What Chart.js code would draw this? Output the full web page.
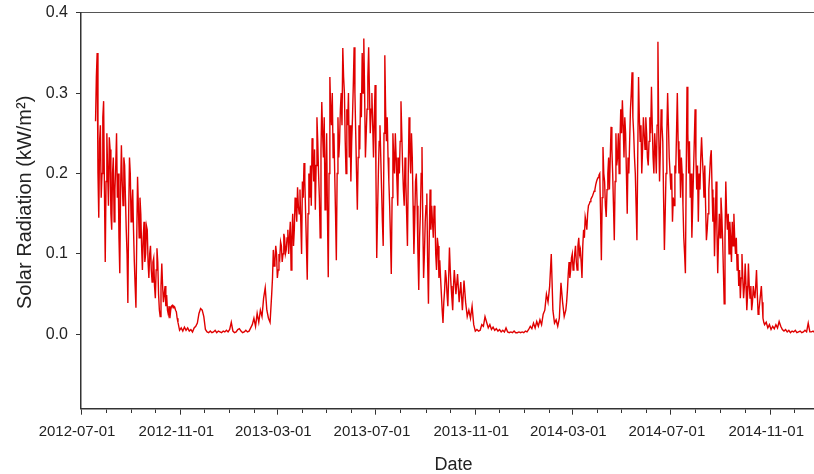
<!DOCTYPE html>
<html>
<head>
<meta charset="utf-8">
<script src="https://cdn.jsdelivr.net/npm/chart.js@4.4.0/dist/chart.umd.min.js"></script>
<style>
  html, body { margin: 0; padding: 0; background: #fff; overflow: hidden; }
  #wrap { width: 826px; height: 474px; }
</style>
</head>
<body>
<div id="wrap"><canvas id="c" width="826" height="474"></canvas></div>
<script>
// Solar radiation (kW/m²). Each season: first date, spacing in days, readings.

const summer2012Start = '2012-07-19';
const summer2012Step = 1;
const summer2012 = [
  0.265, 0.32, 0.35, 0.2, 0.145, 0.24, 0.26, 0.17, 0.20, 0.27,
  0.29, 0.18, 0.09, 0.19, 0.25, 0.2, 0.16, 0.245, 0.23, 0.15,
  0.13, 0.2, 0.22, 0.14, 0.18, 0.21, 0.25, 0.17, 0.20, 0.12,
  0.076, 0.18, 0.235, 0.19, 0.16, 0.22, 0.21, 0.17, 0.13, 0.1,
  0.039, 0.15, 0.22, 0.2, 0.14, 0.16, 0.18, 0.13, 0.09, 0.06,
  0.033, 0.12, 0.196, 0.16, 0.12, 0.17, 0.15, 0.11, 0.08, 0.12,
  0.14, 0.09, 0.10, 0.135, 0.13, 0.09, 0.07, 0.1, 0.11, 0.08,
  0.065, 0.09, 0.095, 0.06, 0.045, 0.08, 0.107, 0.09, 0.05, 0.03,
  0.022, 0.06, 0.088, 0.06, 0.04, 0.05, 0.06, 0.035, 0.049, 0.03,
  0.025, 0.035, 0.02, 0.03, 0.035, 0.036, 0.033, 0.035, 0.034, 0.03,
  0.028, 0.02
];

const winter2012Start = '2012-10-29';
const winter2012Step = 2;
const winter2012 = [
  0.015, 0.005, 0.008, 0.004, 0.009, 0.005, 0.008, 0.004, 0.006, 0.003,
  0.008, 0.01, 0.014, 0.026, 0.032, 0.03, 0.022, 0.006, 0.003, 0.002,
  0.004, 0.002, 0.003, 0.005, 0.002, 0.004, 0.003, 0.002, 0.004, 0.003,
  0.005, 0.003, 0.006, 0.015, 0.004, 0.002, 0.003, 0.006, 0.007, 0.004,
  0.002, 0.003, 0.005, 0.003, 0.004
];

const spring2013Start = '2013-01-27';
const spring2013Step = 2;
const spring2013 = [
  0.008, 0.012, 0.02, 0.01, 0.026, 0.015, 0.03, 0.022, 0.045, 0.058,
  0.03, 0.02, 0.015
];

const summer2013Start = '2013-02-22';
const summer2013Step = 1;
const summer2013 = [
  0.05, 0.07, 0.105, 0.085, 0.09, 0.11, 0.1, 0.07, 0.08, 0.1,
  0.095, 0.115, 0.11, 0.09, 0.1, 0.125, 0.12, 0.1, 0.105, 0.12,
  0.13, 0.1, 0.12, 0.14, 0.08, 0.12, 0.15, 0.11, 0.13, 0.17,
  0.16, 0.14, 0.183, 0.16, 0.15, 0.18, 0.14, 0.1, 0.19, 0.17,
  0.213, 0.19, 0.15, 0.11, 0.068, 0.15, 0.2, 0.17, 0.21, 0.16,
  0.244, 0.22, 0.19, 0.23, 0.155, 0.21, 0.27, 0.24, 0.2, 0.17,
  0.12, 0.23, 0.289, 0.25, 0.22, 0.27, 0.155, 0.2, 0.25, 0.15,
  0.071, 0.2, 0.32, 0.28, 0.26, 0.3, 0.22, 0.25, 0.2, 0.15,
  0.092, 0.2, 0.27, 0.22, 0.24, 0.28, 0.30, 0.26, 0.356, 0.32,
  0.3, 0.24, 0.2, 0.28, 0.26, 0.3, 0.22, 0.26, 0.19, 0.24,
  0.27, 0.31, 0.357, 0.3, 0.25, 0.2, 0.155, 0.22, 0.26, 0.23,
  0.30, 0.27, 0.35, 0.3, 0.368, 0.3, 0.22, 0.25, 0.28, 0.32,
  0.357, 0.3, 0.25, 0.28, 0.30, 0.26, 0.22, 0.27, 0.31, 0.2,
  0.095, 0.15, 0.2, 0.24, 0.26, 0.22, 0.18, 0.14, 0.11, 0.25,
  0.347, 0.28, 0.24, 0.27, 0.22, 0.19, 0.16, 0.12, 0.075, 0.17,
  0.25, 0.22, 0.2, 0.25, 0.22, 0.19, 0.16, 0.22, 0.2, 0.24,
  0.29, 0.25, 0.21, 0.18, 0.16, 0.22, 0.19, 0.15, 0.11, 0.2,
  0.27, 0.23, 0.2, 0.25, 0.22, 0.16, 0.1, 0.14, 0.19, 0.2,
  0.16, 0.1, 0.055, 0.12, 0.15, 0.2, 0.233, 0.14, 0.07, 0.1,
  0.14, 0.16, 0.175, 0.09, 0.038, 0.12, 0.18, 0.13, 0.16, 0.14,
  0.12, 0.16, 0.15, 0.1, 0.08, 0.12, 0.11, 0.07, 0.092, 0.07,
  0.05, 0.03, 0.014, 0.04, 0.055, 0.08, 0.07, 0.05, 0.035, 0.07,
  0.108, 0.08, 0.06, 0.045, 0.03, 0.06
];

const winter2013Start = '2013-10-06';
const winter2013Step = 2;
const winter2013 = [
  0.08, 0.05, 0.075, 0.04, 0.065, 0.03, 0.067, 0.04, 0.022, 0.03,
  0.02, 0.035, 0.012, 0.004, 0.006, 0.004, 0.005, 0.012, 0.01, 0.022,
  0.015, 0.008, 0.012, 0.006, 0.009, 0.005, 0.007, 0.004, 0.006, 0.003,
  0.005, 0.003, 0.008, 0.003, 0.002, 0.003, 0.002, 0.004, 0.002, 0.002,
  0.003, 0.002, 0.003, 0.002, 0.004, 0.003, 0.006, 0.01, 0.007, 0.014,
  0.008, 0.016, 0.01, 0.018, 0.012, 0.025, 0.03, 0.05, 0.04, 0.06,
  0.1, 0.03, 0.014, 0.018, 0.01, 0.02, 0.064, 0.04, 0.022
];

const summer2014Start = '2014-02-21';
const summer2014Step = 1;
const summer2014 = [
  0.03, 0.04, 0.055, 0.075, 0.09, 0.07, 0.08, 0.095, 0.1, 0.08,
  0.085, 0.1, 0.11, 0.09, 0.08, 0.11, 0.12, 0.1, 0.105, 0.09,
  0.07, 0.11, 0.13, 0.12, 0.146, 0.14, 0.13, 0.15, 0.16, 0.162,
  0.165, 0.168, 0.17, 0.172, 0.175, 0.178, 0.18, 0.186, 0.19, 0.193,
  0.195, 0.198, 0.2, 0.15, 0.092, 0.17, 0.233, 0.2, 0.19, 0.16,
  0.146, 0.18, 0.2, 0.22, 0.18, 0.22, 0.258, 0.23, 0.2, 0.16,
  0.117, 0.19, 0.25, 0.21, 0.22, 0.25, 0.2, 0.24, 0.28, 0.25,
  0.291, 0.26, 0.22, 0.27, 0.25, 0.2, 0.15, 0.22, 0.2, 0.24,
  0.28, 0.3, 0.326, 0.27, 0.25, 0.22, 0.2, 0.16, 0.117, 0.22,
  0.32, 0.27, 0.24, 0.26, 0.2, 0.23, 0.27, 0.25, 0.23, 0.27,
  0.25, 0.22, 0.21, 0.24, 0.27, 0.25, 0.308, 0.26, 0.22, 0.2,
  0.25, 0.23, 0.2, 0.26, 0.364, 0.25, 0.19, 0.23, 0.28, 0.26,
  0.24, 0.17, 0.105, 0.15, 0.2, 0.25, 0.30, 0.26, 0.22, 0.2,
  0.18, 0.2, 0.14, 0.17, 0.16, 0.21, 0.2, 0.25, 0.30, 0.24,
  0.2, 0.23, 0.17, 0.22, 0.2, 0.16, 0.12, 0.1, 0.076, 0.2,
  0.308, 0.25, 0.2, 0.24, 0.17, 0.2, 0.12, 0.16, 0.2, 0.24,
  0.28, 0.22, 0.18, 0.21, 0.14, 0.2, 0.18, 0.22, 0.245, 0.22,
  0.2, 0.17, 0.21, 0.16, 0.117, 0.13, 0.15, 0.18, 0.2, 0.22
];

const autumn2014Start = '2014-08-20';
const autumn2014Step = 1;
const autumn2014 = [
  0.229, 0.18, 0.14, 0.17, 0.097, 0.14, 0.19, 0.13, 0.076, 0.12,
  0.15, 0.12, 0.17, 0.15, 0.12, 0.08, 0.038, 0.12, 0.19, 0.15,
  0.13, 0.15, 0.1, 0.14, 0.12, 0.09, 0.14, 0.11, 0.15, 0.12,
  0.1, 0.12, 0.08, 0.1, 0.06, 0.08, 0.045, 0.07, 0.1, 0.07,
  0.045, 0.06, 0.088, 0.06, 0.03, 0.05, 0.088, 0.06, 0.045, 0.06,
  0.03, 0.04, 0.06, 0.05, 0.045, 0.06, 0.08, 0.05, 0.025, 0.03,
  0.04, 0.05, 0.06, 0.04, 0.02, 0.015
];

const winter2014Start = '2014-10-25';
const winter2014Step = 2;
const winter2014 = [
  0.012, 0.015, 0.008, 0.012, 0.006, 0.01, 0.007, 0.012, 0.008, 0.016,
  0.01, 0.006, 0.004, 0.006, 0.003, 0.005, 0.002, 0.004, 0.003, 0.005,
  0.002, 0.003, 0.004, 0.002, 0.003, 0.005, 0.003, 0.014, 0.003, 0.003,
  0.004, 0.002, 0.003, 0.004, 0.003, 0.002, 0.003, 0.004
];

// Axis ticks
const tickLabels = ['2012-07-01', '2012-11-01', '2013-03-01', '2013-07-01',
                    '2013-11-01', '2014-03-01', '2014-07-01', '2014-11-01'];
const yTicks = [0.0, 0.1, 0.2, 0.3, 0.4];

// Axis ranges
const AXIS_START = '2012-07-01';
const AXIS_DAYS = 922;
const Y_MIN = -0.0925;
const Y_MAX = 0.4;

const DAY_MS = 86400000;
const originMs = Date.parse(AXIS_START + 'T00:00:00Z');
const dayOf = iso => Math.round((Date.parse(iso + 'T00:00:00Z') - originMs) / DAY_MS);

// One tick per month, labels every fourth month
const monthTicks = [];
for (let m = 0; m <= 30; m++) {
  const d = new Date(originMs);
  d.setUTCMonth(d.getUTCMonth() + m);
  monthTicks.push(Math.round((d.getTime() - originMs) / DAY_MS));
}
const labelByDay = {};
tickLabels.forEach(t => { labelByDay[dayOf(t)] = t; });

const seasons = [
  [summer2012Start, summer2012Step, summer2012],
  [winter2012Start, winter2012Step, winter2012],
  [spring2013Start, spring2013Step, spring2013],
  [summer2013Start, summer2013Step, summer2013],
  [winter2013Start, winter2013Step, winter2013],
  [summer2014Start, summer2014Step, summer2014],
  [autumn2014Start, autumn2014Step, autumn2014],
  [winter2014Start, winter2014Step, winter2014]
];
const points = [];
seasons.forEach(([start, step, vals]) => {
  const d0 = dayOf(start);
  vals.forEach((v, i) => points.push({ x: d0 + i * step, y: v }));
});

const FONT = '"Liberation Sans", Arial, Helvetica, sans-serif';
const AXIS_COLOR = '#333';

// Fixed axis sizes; label overhang is not allowed to push the plot area
const noOverhang = s => {
  s.paddingTop = 0; s.paddingBottom = 0; s.paddingLeft = 0; s.paddingRight = 0;
};

new Chart(document.getElementById('c'), {
  type: 'line',
  data: {
    datasets: [{
      data: points,
      borderColor: '#e00000',
      borderWidth: 1.4,
      pointRadius: 0,
      tension: 0,
      fill: false
    }]
  },
  options: {
    responsive: false,
    animation: false,
    events: [],
    layout: { padding: 0 },
    plugins: { legend: { display: false }, tooltip: { enabled: false } },
    scales: {
      x: {
        type: 'linear',
        position: 'bottom',
        min: 0,
        max: AXIS_DAYS,
        afterBuildTicks: s => { s.ticks = monthTicks.map(v => ({ value: v })); },
        afterFit: s => { s.height = 65.3; noOverhang(s); },
        ticks: {
          autoSkip: false,
          maxRotation: 0,
          minRotation: 0,
          padding: 8,
          labelOffset: -4,
          color: '#222',
          font: { family: FONT, size: 15 },
          callback: v => labelByDay[v] || ''
        },
        grid: {
          drawOnChartArea: false,
          tickLength: 6,
          tickColor: AXIS_COLOR,
          tickWidth: 1,
          tickBorderDash: ctx => (ctx.tick && labelByDay[ctx.tick.value]) ? [] : [3.5, 40]
        },
        border: { display: true, color: AXIS_COLOR, width: 1.5 },
        title: {
          display: true,
          text: 'Date',
          color: '#222',
          font: { family: FONT, size: 18 },
          padding: { top: 0, bottom: -2 }
        }
      },
      xTop: {
        type: 'linear',
        position: 'top',
        min: 0,
        max: AXIS_DAYS,
        afterFit: s => { s.height = 12.7; noOverhang(s); },
        ticks: { display: false },
        grid: { drawOnChartArea: false, drawTicks: false },
        border: { display: true, color: '#555', width: 1 }
      },
      y: {
        type: 'linear',
        min: Y_MIN,
        max: Y_MAX,
        afterBuildTicks: s => { s.ticks = yTicks.map(v => ({ value: v })); },
        afterFit: s => { s.width = 81; noOverhang(s); },
        ticks: {
          padding: 8,
          color: '#222',
          font: { family: FONT, size: 16 },
          callback: v => v.toFixed(1)
        },
        grid: {
          drawOnChartArea: false,
          tickLength: 5,
          tickColor: AXIS_COLOR,
          tickWidth: 1
        },
        border: { display: true, color: AXIS_COLOR, width: 1.5 },
        title: {
          display: true,
          text: '   Solar Radiation (kW/m²)',
          color: '#222',
          font: { family: FONT, size: 20 },
          padding: { top: 13.5, bottom: 0 }
        }
      }
    }
  }
});
</script>
</body>
</html>
